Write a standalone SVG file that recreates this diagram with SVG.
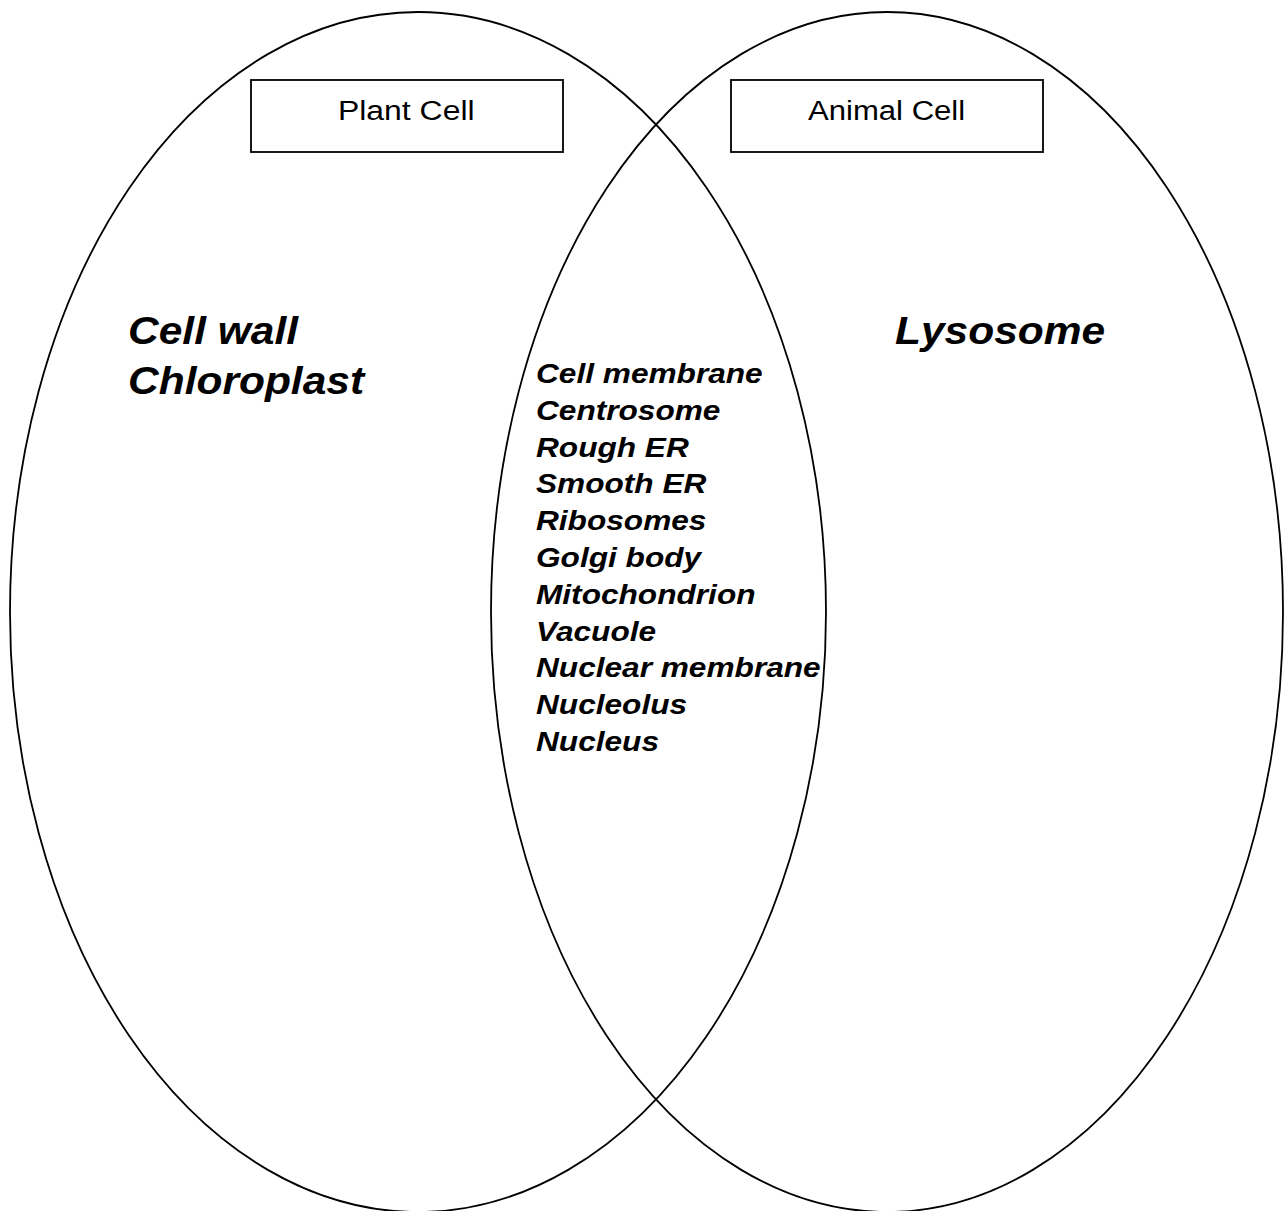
<svg xmlns="http://www.w3.org/2000/svg" width="1285" height="1211" viewBox="0 0 1285 1211">
<style>
.ell{fill:none;stroke:#000;stroke-width:1.8}
.box{fill:#fff;stroke:#000;stroke-width:1.8}
.lbl{font-family:"Liberation Sans",Arial,sans-serif;font-size:28px;fill:#000}
.big{font-family:"Liberation Sans",Arial,sans-serif;font-size:39px;font-weight:bold;font-style:italic;fill:#000}
.item{font-family:"Liberation Sans",Arial,sans-serif;font-size:27.5px;font-weight:bold;font-style:italic;fill:#000}
</style>
<rect width="1285" height="1211" fill="#fff"/>
<g id="plant-ellipse"><ellipse class="ell" cx="418" cy="612" rx="408" ry="600"/></g>
<g id="animal-ellipse"><ellipse class="ell" cx="887" cy="612" rx="396" ry="600"/></g>
<g id="plant-label">
<rect class="box" x="251" y="80" width="312" height="72"/>
<text class="lbl" transform="translate(338,120) scale(1.14,1)">Plant Cell</text>
</g>
<g id="animal-label">
<rect class="box" x="731" y="80" width="312" height="72"/>
<text class="lbl" transform="translate(808,120) scale(1.11,1)">Animal Cell</text>
</g>
<g id="plant-only">
<text class="big" transform="translate(128,344) scale(1.09,1)">Cell wall</text>
<text class="big" transform="translate(128,394) scale(1.09,1)">Chloroplast</text>
</g>
<g id="animal-only">
<text class="big" transform="translate(895,344) scale(1.09,1)">Lysosome</text>
</g>
<g id="shared" transform="translate(536,0) scale(1.15,1)">
<text class="item" x="0" y="383">Cell membrane</text>
<text class="item" x="0" y="419.8">Centrosome</text>
<text class="item" x="0" y="456.6">Rough ER</text>
<text class="item" x="0" y="493.4">Smooth ER</text>
<text class="item" x="0" y="530.2">Ribosomes</text>
<text class="item" x="0" y="567">Golgi body</text>
<text class="item" x="0" y="603.8">Mitochondrion</text>
<text class="item" x="0" y="640.6">Vacuole</text>
<text class="item" x="0" y="677.4">Nuclear membrane</text>
<text class="item" x="0" y="714.2">Nucleolus</text>
<text class="item" x="0" y="751">Nucleus</text>
</g>
<g id="connectors"></g>
</svg>
